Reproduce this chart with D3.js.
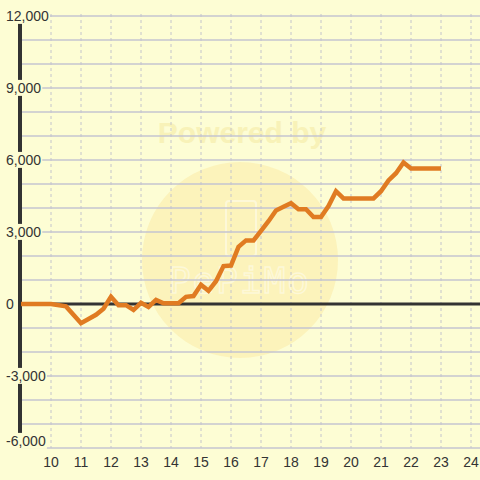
<!DOCTYPE html>
<html><head><meta charset="utf-8">
<script src="https://cdn.jsdelivr.net/npm/d3@7"></script>
<style>html,body{margin:0;padding:0;background:#fdfdd4;}svg{display:block;}</style>
</head><body>
<svg id="c" width="480" height="480"></svg>
<script>
const xValues = [9.0,10.0,10.5,11.0,11.5,11.75,12.0,12.25,12.5,12.75,13.0,13.25,13.5,13.75,14.0,14.25,14.5,14.75,15.0,15.25,15.5,15.75,16.0,16.25,16.5,16.75,17.0,17.25,17.5,17.75,18.0,18.25,18.5,18.75,19.0,19.25,19.5,19.75,20.0,20.25,20.5,20.75,21.0,21.25,21.5,21.75,22.0,23.0];
const yValues = [0,0,-100,-800,-450,-200,300,-50,-50,-250,50,-120,170,30,30,30,300,330,800,550,950,1580,1600,2380,2650,2650,3050,3450,3900,4050,4200,3950,3950,3620,3620,4080,4700,4400,4400,4400,4400,4400,4700,5150,5450,5900,5650,5650];
const xTicks = [10,11,12,13,14,15,16,17,18,19,20,21,22,23,24];
const yTickLabels = [-6000,-3000,0,3000,6000,9000,12000];
const yGrid = d3.range(-6000, 12001, 1000);

const svg = d3.select("#c");
const bg = "#fdfdd4";
const x = d3.scaleLinear().domain([9, 24.3]).range([21, 480]);
const y = d3.scaleLinear().domain([-6000, 12000]).range([448, 16]);

svg.append("rect").attr("width",480).attr("height",480).attr("fill",bg);

// watermark
const wm = svg.append("g");
wm.append("circle").attr("cx",240).attr("cy",260).attr("r",98).attr("fill","#fbf1b6").attr("opacity",0.85);
wm.append("text").attr("x",242).attr("y",143).attr("text-anchor","middle")
  .attr("font-family","Liberation Sans, Arial, sans-serif").attr("font-weight","bold").attr("font-size",30)
  .attr("fill","#f8f2b8").text("Powered by");
wm.append("rect").attr("x",226).attr("y",201).attr("width",30).attr("height",55).attr("rx",3)
  .attr("fill","none").attr("stroke","#fdf8d8").attr("stroke-width",2);
wm.append("text").attr("x",240).attr("y",293).attr("text-anchor","middle")
  .attr("font-family","DejaVu Sans Mono, monospace").attr("font-size",36).attr("letter-spacing",2)
  .attr("fill","none").attr("stroke","#fdf8d8").attr("stroke-width",1.5).text("PePiMo");

// vertical dashed grid
svg.append("g").selectAll("line").data(xTicks).join("line")
  .attr("x1",d=>x(d)).attr("x2",d=>x(d)).attr("y1",y(12000)-2).attr("y2",y(-6000))
  .attr("stroke","#c4c4cc").attr("stroke-width",1).attr("stroke-dasharray","3,3");

// horizontal grid
svg.append("g").selectAll("line").data(yGrid).join("line")
  .attr("x1",x(9)).attr("x2",480).attr("y1",d=>y(d)).attr("y2",d=>y(d))
  .attr("stroke","#c4c4d0").attr("stroke-width",1.5);

// zero line
svg.append("line").attr("x1",x(9)).attr("x2",480).attr("y1",y(0)).attr("y2",y(0))
  .attr("stroke","#333").attr("stroke-width",3);

// left axis line
svg.append("line").attr("x1",20).attr("x2",20).attr("y1",y(12000)).attr("y2",y(-6000))
  .attr("stroke","#333").attr("stroke-width",4);

// data line
const data = xValues.map((v,i)=>[v, yValues[i]]);
svg.append("path").datum(data)
  .attr("d", d3.line().x(d=>x(d[0])).y(d=>y(d[1])))
  .attr("fill","none").attr("stroke","#e07b22").attr("stroke-width",4.5)
  .attr("stroke-linejoin","miter").attr("stroke-linecap","butt");

// y tick labels with background
const fmt = d => d3.format(",")(d).replace("\u2212","-");
const yl = svg.append("g").selectAll("g").data(yTickLabels).join("g");
yl.append("text").attr("x",6).attr("y",d=>Math.min(y(d), 441)).attr("dy","0.35em")
  .attr("font-family","Liberation Sans, Arial, sans-serif").attr("font-size",14).attr("fill","#333")
  .text(d=>fmt(d));
yl.each(function(){
  const g = d3.select(this);
  const b = g.select("text").node().getBBox();
  g.insert("rect","text").attr("x",b.x-1).attr("y",b.y).attr("width",b.width+2).attr("height",b.height).attr("fill",bg);
});

// x tick labels
svg.append("g").selectAll("text").data(xTicks).join("text")
  .attr("x",d=>x(d)).attr("y",462).attr("dy","0.35em").attr("text-anchor","middle")
  .attr("font-family","Liberation Sans, Arial, sans-serif").attr("font-size",14).attr("fill","#333")
  .text(d=>d);
</script>
</body></html>
